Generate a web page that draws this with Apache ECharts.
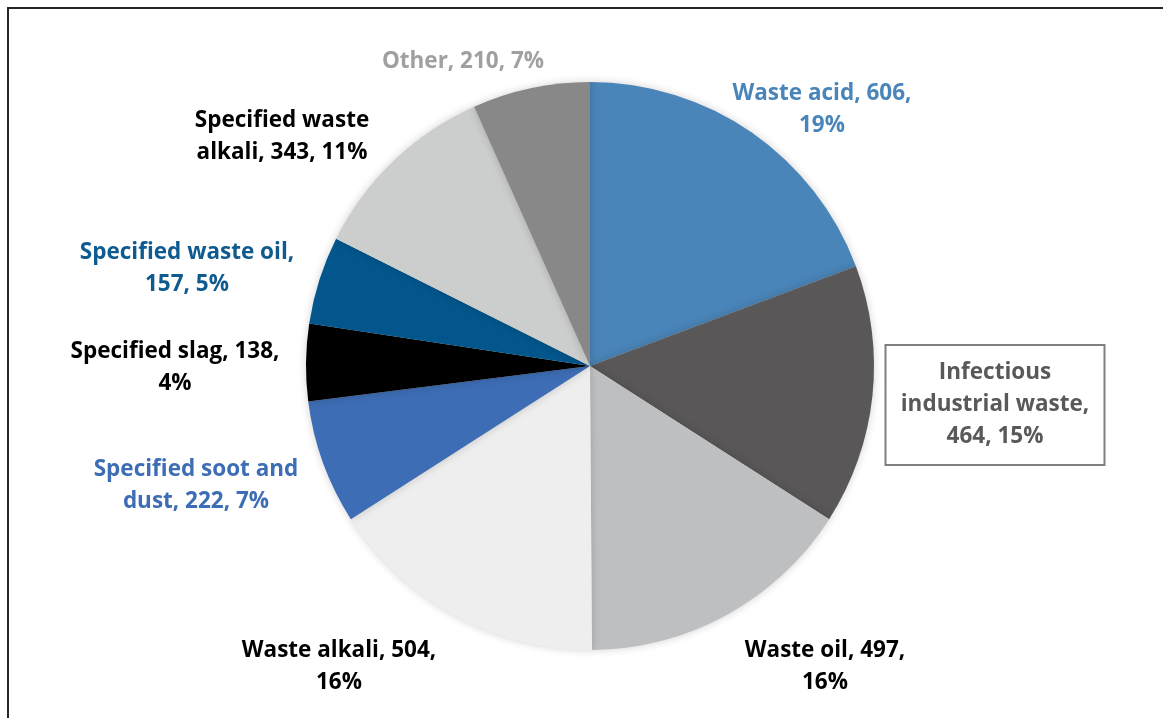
<!DOCTYPE html>
<html>
<head>
<meta charset="utf-8">
<script src="https://cdn.jsdelivr.net/npm/echarts@6/dist/echarts.min.js"></script>
<style>
  html, body { margin: 0; padding: 0; background: #fff; }
  #chart { width: 1163px; height: 718px; }
</style>
</head>
<body>
<div id="chart"></div>
<script>
// Hazardous industrial waste by type (clockwise from 12 o'clock)
const categories = [
  'Waste acid', 'Infectious industrial waste', 'Waste oil', 'Waste alkali',
  'Specified soot and dust', 'Specified slag', 'Specified waste oil',
  'Specified waste alkali', 'Other'
];
const values = [606, 464, 497, 504, 222, 138, 157, 343, 210];

// Label text with the line breaks used on the chart
const displayNames = [
  'Waste acid', 'Infectious\nindustrial waste', 'Waste oil', 'Waste alkali',
  'Specified soot and\ndust', 'Specified slag', 'Specified waste oil',
  'Specified waste\nalkali', 'Other'
];
const labelTemplates = [
  '{n}, {v},\n{p}', '{n},\n{v}, {p}', '{n}, {v},\n{p}', '{n}, {v},\n{p}',
  '{n}, {v}, {p}', '{n}, {v},\n{p}', '{n},\n{v}, {p}', '{n}, {v}, {p}', '{n}, {v}, {p}'
];

const sliceColors = ['#4A85B9', '#595758', '#BEBFC1', '#EEEEEE', '#3D6DB5', '#000000', '#02568C', '#CCCDCD', '#888888'];
const labelColors = ['#4A85B9', '#595959', '#000000', '#000000', '#3D6DB5', '#000000', '#0F5A8E', '#000000', '#A0A0A0'];
// Label block centres in pixels
const labelCentres = [
  [822, 110], [995, 405], [825, 667], [339, 667], [196, 486],
  [175, 368], [187, 269], [282, 137], [463, 62]
];

const FONT = '"Open Sans", Lato, sans-serif';

const data = categories.map((name, i) => {
  const item = {
    name: name,
    value: values[i],
    itemStyle: { color: sliceColors[i] },
    label: { color: labelColors[i] }
  };
  if (i === 1) {
    Object.assign(item.label, {
      borderColor: '#7F7F7F',
      borderWidth: 2,
      padding: [11, 13],
      width: 191,
      backgroundColor: '#fff'
    });
  }
  return item;
});

const chart = echarts.init(document.getElementById('chart'), null, { renderer: 'canvas' });
chart.setOption({
  animation: false,
  backgroundColor: '#fff',
  graphic: [{
    type: 'rect',
    shape: { x: 8, y: 8, width: 1400, height: 1000 },
    style: { fill: 'none', stroke: '#262626', lineWidth: 2 },
    silent: true
  }],
  series: [{
    type: 'pie',
    center: [590, 366],
    radius: [0, 284],
    startAngle: 90,
    clockwise: true,
    percentPrecision: 0,
    avoidLabelOverlap: false,
    itemStyle: {
      borderWidth: 0,
      shadowBlur: 8,
      shadowColor: 'rgba(0,0,0,0.18)'
    },
    label: {
      show: true,
      position: 'outside',
      fontFamily: FONT,
      fontWeight: 'bold',
      fontSize: 22.5,
      lineHeight: 32,
      align: 'center',
      formatter: p => labelTemplates[p.dataIndex]
        .replace('{n}', displayNames[p.dataIndex])
        .replace('{v}', p.value)
        .replace('{p}', p.percent + '%')
    },
    labelLine: { show: false },
    labelLayout: p => ({
      x: labelCentres[p.dataIndex][0],
      y: labelCentres[p.dataIndex][1],
      align: 'center',
      verticalAlign: 'middle'
    }),
    emphasis: { disabled: true },
    data: data
  }]
});
</script>
</body>
</html>
